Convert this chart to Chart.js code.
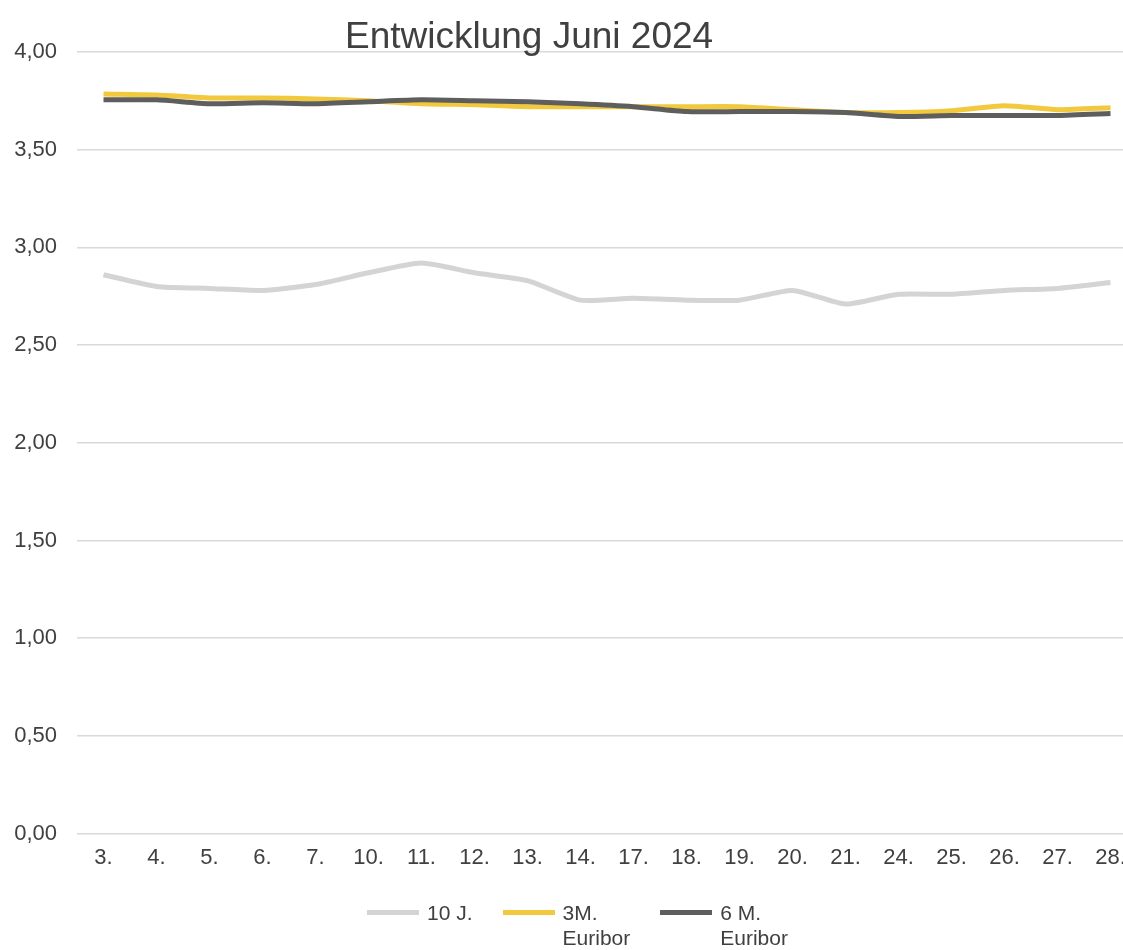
<!DOCTYPE html>
<html>
<head>
<meta charset="utf-8">
<script src="https://cdn.jsdelivr.net/npm/chart.js@4/dist/chart.umd.min.js"></script>
<style>
  html, body { margin: 0; padding: 0; background: #fff; overflow: hidden; }
  #wrap { position: relative; width: 1137px; height: 950px; }
  #title {
    position: absolute; left: 345px; top: 15px;
    font-family: "Liberation Sans", Arial, sans-serif;
    font-size: 37px; color: #404040; white-space: nowrap;
  }
  #legend {
    position: absolute; left: 367px; top: 900px;
    display: flex; gap: 30px;
    font-family: "Liberation Sans", Arial, sans-serif;
    font-size: 21px; color: #404040; line-height: 25px;
  }
  .item { display: flex; align-items: flex-start; }
  .swatch { width: 52px; height: 5px; margin-top: 10px; }
  .label { margin-left: 8px; white-space: pre-line; }
</style>
</head>
<body>
<div id="wrap">
  <canvas id="chart" width="1137" height="950"></canvas>
  <div id="title">Entwicklung Juni 2024</div>
  <div id="legend"></div>
</div>
<script>
// Tage im Juni 2024
const days = ['3.', '4.', '5.', '6.', '7.', '10.', '11.', '12.', '13.', '14.',
              '17.', '18.', '19.', '20.', '21.', '24.', '25.', '26.', '27.', '28.'];

const tenYear = [2.86, 2.80, 2.79, 2.78, 2.81, 2.87, 2.92, 2.87, 2.83, 2.73,
                 2.74, 2.73, 2.73, 2.78, 2.71, 2.76, 2.76, 2.78, 2.79, 2.82];
const euribor3m = [3.785, 3.78, 3.765, 3.765, 3.76, 3.75, 3.735, 3.73, 3.72, 3.72,
                   3.72, 3.72, 3.72, 3.705, 3.69, 3.69, 3.70, 3.725, 3.705, 3.715];
const euribor6m = [3.755, 3.755, 3.735, 3.74, 3.735, 3.745, 3.755, 3.75, 3.745, 3.735,
                   3.72, 3.695, 3.695, 3.695, 3.69, 3.67, 3.675, 3.675, 3.675, 3.685];

const seriesNames = ['10 J.', '3M.\nEuribor', '6 M.\nEuribor'];
const seriesColors = ['#d4d4d4', '#f2c93c', '#5e5e5e'];

const yTicks = { min: 0, max: 4, step: 0.5 };

const font = { family: '"Liberation Sans", Arial, sans-serif', size: 22 };

const ctx = document.getElementById('chart').getContext('2d');
const chart = new Chart(ctx, {
    type: 'line',
    data: {
        labels: days,
        datasets: [tenYear, euribor3m, euribor6m].map((values, i) => ({
            label: seriesNames[i].replace('\n', ' '),
            data: values,
            borderColor: seriesColors[i],
            backgroundColor: seriesColors[i],
            borderWidth: 5,
            pointRadius: 0,
            tension: 0.2,
            order: 3 - i
        }))
    },
    options: {
        responsive: false,
        animation: false,
        layout: { padding: { top: 52, left: 12, right: 0, bottom: 68 } },
        plugins: {
            legend: { display: false },
            title: { display: false },
            tooltip: { enabled: false }
        },
        scales: {
            x: {
                offset: true,
                grid: { display: false, drawTicks: false },
                border: { display: false },
                ticks: { color: '#404040', font: font, padding: 11, maxRotation: 0, autoSkip: false }
            },
            y: {
                min: yTicks.min,
                max: yTicks.max,
                afterFit: axis => { axis.width = 65; },
                grid: { color: '#d9d9d9', lineWidth: 1.5, drawTicks: false },
                border: { display: false },
                ticks: {
                    stepSize: yTicks.step,
                    color: '#404040',
                    font: font,
                    padding: 20,
                    callback: v => v.toFixed(2).replace('.', ',')
                }
            }
        }
    }
});

// Legende als HTML, damit die Beschriftungen umbrechen
const legend = document.getElementById('legend');
seriesNames.forEach((name, i) => {
    const item = document.createElement('div');
    item.className = 'item';
    const swatch = document.createElement('div');
    swatch.className = 'swatch';
    swatch.style.background = seriesColors[i];
    const label = document.createElement('span');
    label.className = 'label';
    label.textContent = name;
    item.appendChild(swatch);
    item.appendChild(label);
    legend.appendChild(item);
});
</script>
</body>
</html>
